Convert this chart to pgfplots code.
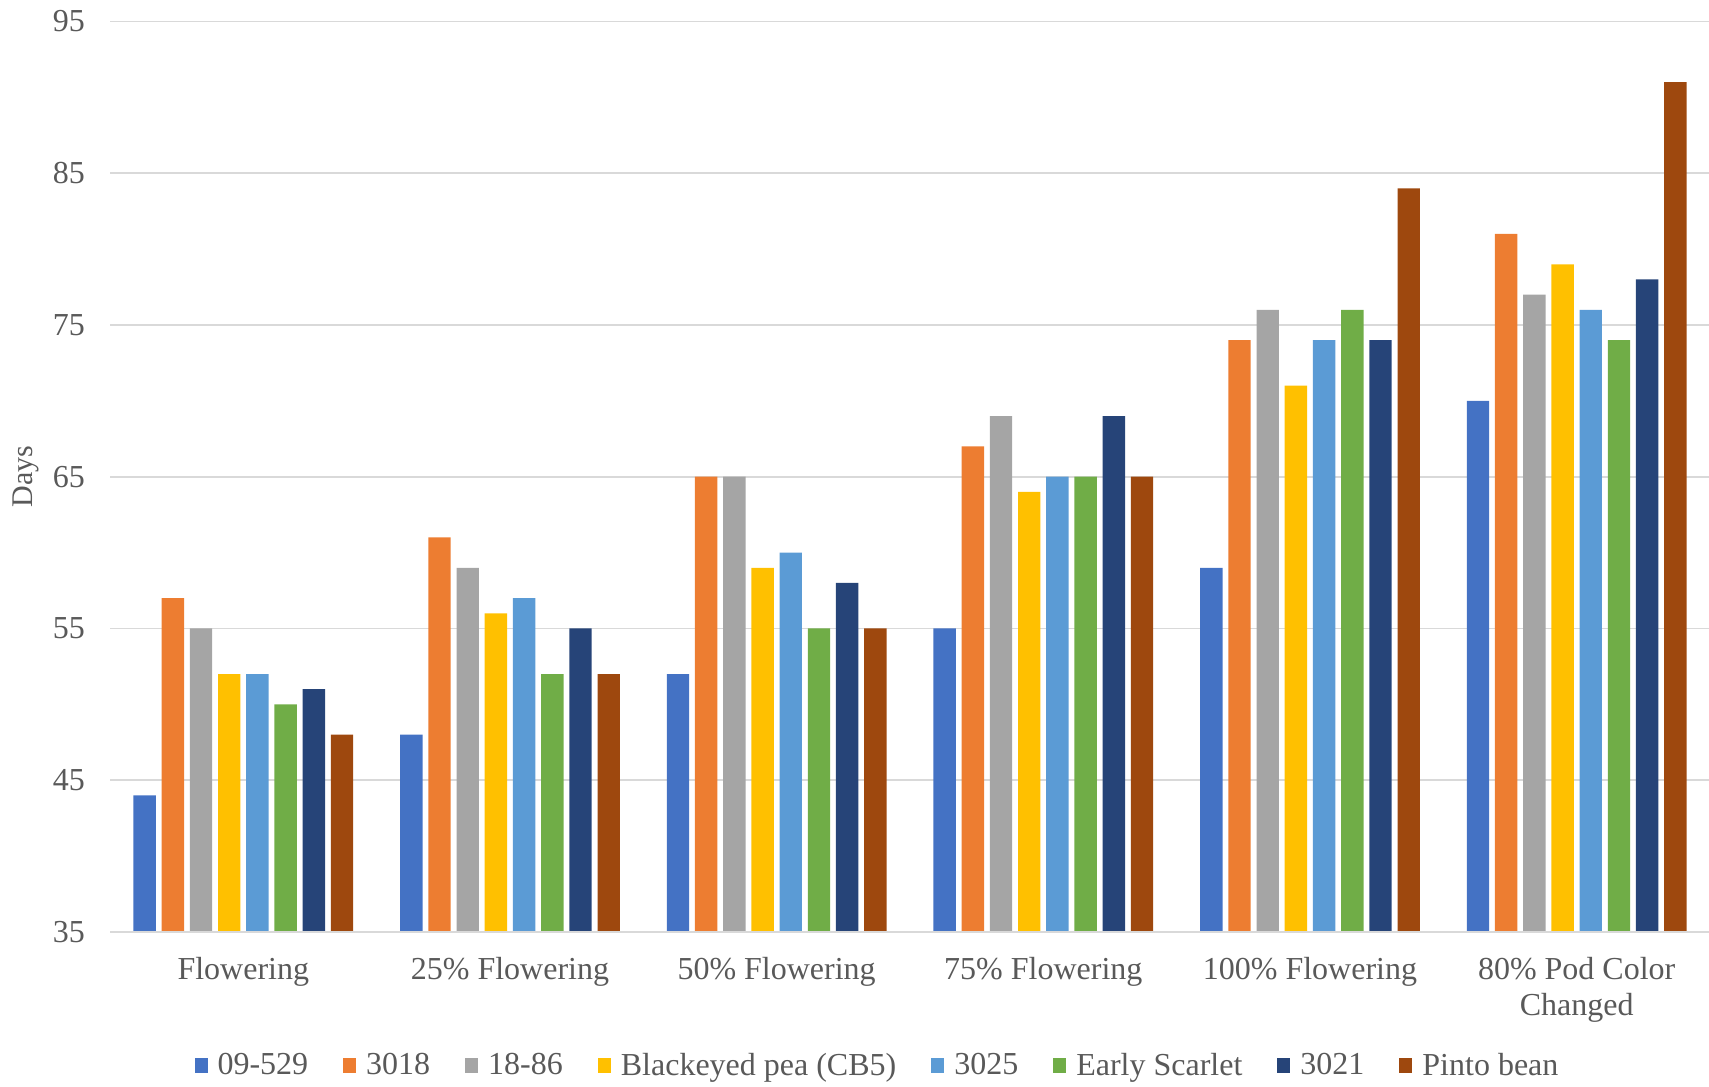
\documentclass[border=0pt]{standalone}
\usepackage{fontspec}
\setmainfont{Liberation Serif}
\usepackage{pgfplots}
\pgfplotsset{compat=1.18}
\definecolor{c1}{HTML}{4472C4}
\definecolor{c2}{HTML}{ED7D31}
\definecolor{c3}{HTML}{A5A5A5}
\definecolor{c4}{HTML}{FFC000}
\definecolor{c5}{HTML}{5B9BD5}
\definecolor{c6}{HTML}{70AD47}
\definecolor{c7}{HTML}{264478}
\definecolor{c8}{HTML}{9E480E}
\definecolor{txt}{HTML}{595959}
\definecolor{gridc}{HTML}{D9D9D9}
\begin{document}
\begin{tikzpicture}
\useasboundingbox (0,0) rectangle (854.5pt,543.5pt);
\begin{axis}[
  at={(55pt,77.5pt)}, anchor=south west,
  scale only axis, width=800pt, height=455.25pt,
  ybar=2.9pt, bar width=11.2pt,
  xmin=-0.5, xmax=5.5, ymin=35, ymax=95,
  ytick={35,45,...,95},
  xtick=data,
  xticklabels={Flowering,25\% Flowering,50\% Flowering,75\% Flowering,100\% Flowering,{80\% Pod Color\\Changed}},
  /pgf/number format/assume math mode=true,
  axis line style={draw=none},
  major tick length=0pt,
  xmajorgrids=false,
  ymajorgrids, 
  major grid style={draw=gridc, line width=0.9pt},
  tick style={draw=none},
  every tick label/.append style={font=\fontsize{16}{18}\selectfont, text=txt},
  yticklabel style={xshift=-9pt},
  xticklabel style={align=center, yshift=-9pt},
  ylabel={Days},
  every axis y label/.style={at={([xshift=-42pt]rel axis cs:0,0.5)}, rotate=90, anchor=center, font=\fontsize{15}{17}\selectfont, text=txt},
  legend columns=8,
  legend style={at={(0.48,-0.147)}, anchor=center, draw=none, fill=none,
    font=\fontsize{16}{18}\selectfont, text=txt,
    nodes={inner sep=1.5pt},
    /tikz/every odd column/.append style={column sep=3.5pt},
    /tikz/every even column/.append style={column sep=16pt}},
  legend image code/.code={\fill[#1] (0pt,-3.8pt) rectangle (6.5pt,3.8pt);},
  clip=false,
]
\addplot[fill=c1, draw=none] coordinates {(0,44) (1,48) (2,52) (3,55) (4,59) (5,70)};
\addplot[fill=c2, draw=none] coordinates {(0,57) (1,61) (2,65) (3,67) (4,74) (5,81)};
\addplot[fill=c3, draw=none] coordinates {(0,55) (1,59) (2,65) (3,69) (4,76) (5,77)};
\addplot[fill=c4, draw=none] coordinates {(0,52) (1,56) (2,59) (3,64) (4,71) (5,79)};
\addplot[fill=c5, draw=none] coordinates {(0,52) (1,57) (2,60) (3,65) (4,74) (5,76)};
\addplot[fill=c6, draw=none] coordinates {(0,50) (1,52) (2,55) (3,65) (4,76) (5,74)};
\addplot[fill=c7, draw=none] coordinates {(0,51) (1,55) (2,58) (3,69) (4,74) (5,78)};
\addplot[fill=c8, draw=none] coordinates {(0,48) (1,52) (2,55) (3,65) (4,84) (5,91)};
\legend{09-529,3018,18-86,Blackeyed pea (CB5),3025,Early Scarlet,3021,Pinto bean}
\draw[gridc, line width=1.2pt] (rel axis cs:0,0) -- (rel axis cs:1,0);
\end{axis}
\end{tikzpicture}
\end{document}
